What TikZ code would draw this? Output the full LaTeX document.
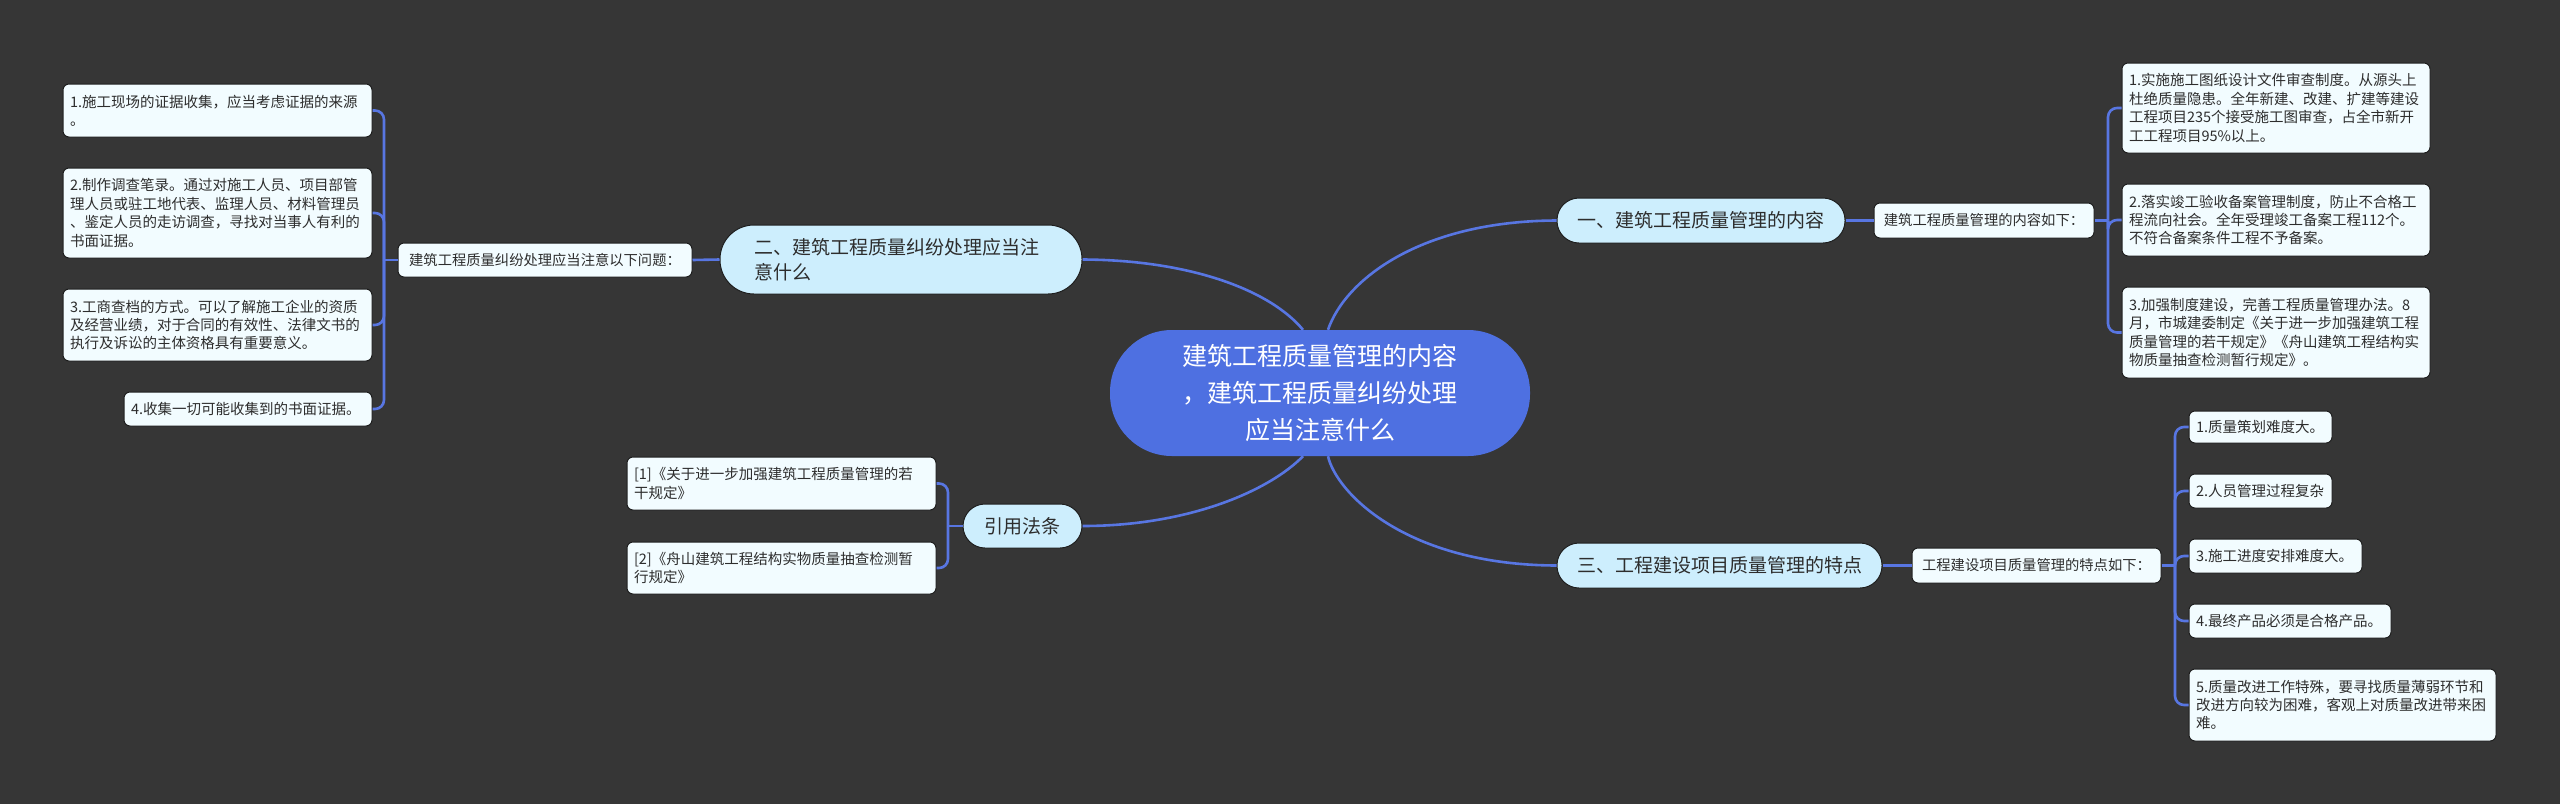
\documentclass[tikz,border=0pt]{standalone}
\usepackage{fontspec}
\setmainfont{Noto Sans CJK SC}
\usetikzlibrary{calc}
\definecolor{bgc}{RGB}{54,54,54}
\definecolor{linec}{RGB}{88,118,226}
\definecolor{mainc}{RGB}{78,112,225}
\definecolor{lvc}{RGB}{205,238,253}
\definecolor{leafc}{RGB}{242,252,255}
\definecolor{edgec}{RGB}{30,30,30}
\definecolor{txtc}{RGB}{45,45,45}
\begin{document}
\begin{tikzpicture}[x=1pt,y=-1pt,
  conn/.style={draw=linec, line width=2.6pt},
  bconn/.style={draw=linec, line width=2.6pt, rounded corners=9pt},
  mainbox/.style={fill=mainc, draw=none, rounded corners=62pt, text=white, align=center,
    font=\fontsize{25}{37}\selectfont, inner sep=0pt},
  lvbox/.style={fill=lvc, draw=edgec, line width=1pt, text=txtc, align=center,
    font=\fontsize{19}{25}\selectfont, inner sep=0pt},
  leaf/.style={fill=leafc, draw=edgec, line width=1pt, rounded corners=6pt, text=txtc,
    align=left, inner xsep=7pt, inner ysep=0pt, font=\fontsize{14.5}{18.4}\selectfont},
  lab/.style={leaf, align=center, inner xsep=0pt, font=\fontsize{14.3}{18.4}\selectfont}
]
\fill[bgc] (0,0) rectangle (2560,804);
\useasboundingbox (0,0) rectangle (2560,804);

% center
\node[mainbox, minimum width=420pt, minimum height=126pt] (c) at (1320,393)
  {建筑工程质量管理的内容\\，建筑工程质量纠纷处理\\应当注意什么};

% level 1
\node[lvbox, rounded corners=22pt, minimum width=288pt, minimum height=45pt] (n1) at (1701,220.5)
  {一、建筑工程质量管理的内容};
\node[lvbox, rounded corners=34pt, align=left, text width=294pt, inner xsep=34pt, minimum height=69pt] (n2) at (901,259.5)
  {二、建筑工程质量纠纷处理应当注\\意什么};
\node[lvbox, rounded corners=22pt, minimum width=325pt, minimum height=45pt] (n3) at (1719.5,565.5)
  {三、工程建设项目质量管理的特点};
\node[lvbox, rounded corners=22pt, minimum width=119pt, minimum height=44pt] (n4) at (1022.5,526)
  {引用法条};

% main connectors
\draw[conn] (n2.east) .. controls (1190,260) and (1270,290) .. ([xshift=-17pt]c.north);
\draw[conn] ([xshift=8pt]c.north) .. controls (1345,280) and (1420,221) .. (n1.west);
\draw[conn] (n4.east) .. controls (1190,526) and (1270,490) .. ([xshift=-17pt]c.south);
\draw[conn] ([xshift=8pt]c.south) .. controls (1336,492) and (1405,565) .. (n3.west);

% ---- branch 1
\node[lab, minimum width=220pt, minimum height=35pt] (a0) at (1984,220.5) {建筑工程质量管理的内容如下：};
\node[leaf, text width=294pt, minimum height=90pt] (a1) at (2276,108)
  {1.实施施工图纸设计文件审查制度。从源头上\\杜绝质量隐患。全年新建、改建、扩建等建设\\工程项目235个接受施工图审查，占全市新开\\工工程项目95\%以上。};
\node[leaf, text width=294pt, minimum height=72pt] (a2) at (2276,220)
  {2.落实竣工验收备案管理制度，防止不合格工\\程流向社会。全年受理竣工备案工程112个。\\不符合备案条件工程不予备案。};
\node[leaf, text width=294pt, minimum height=91pt] (a3) at (2276,332.5)
  {3.加强制度建设，完善工程质量管理办法。8\\月，市城建委制定《关于进一步加强建筑工程\\质量管理的若干规定》《舟山建筑工程结构实\\物质量抽查检测暂行规定》。};
\coordinate (j1) at (2108,220.5);
\draw[conn] (n1.east) -- (a0.west);
\draw[conn] (a0.east) -- (j1);
\draw[bconn] (j1) |- (a1.west);
\draw[bconn] (j1) |- (a2.west);
\draw[bconn] (j1) |- (a3.west);

% ---- branch 2
\node[lab, minimum width=294pt, minimum height=34pt] (b0) at (545,260) {建筑工程质量纠纷处理应当注意以下问题：};
\node[leaf, text width=295pt, minimum height=53pt] (b1) at (217.5,110.5)
  {1.施工现场的证据收集，应当考虑证据的来源\\。};
\node[leaf, text width=295pt, minimum height=90pt] (b2) at (217.5,213)
  {2.制作调查笔录。通过对施工人员、项目部管\\理人员或驻工地代表、监理人员、材料管理员\\、鉴定人员的走访调查，寻找对当事人有利的\\书面证据。};
\node[leaf, text width=295pt, minimum height=72pt] (b3) at (217.5,325)
  {3.工商查档的方式。可以了解施工企业的资质\\及经营业绩，对于合同的有效性、法律文书的\\执行及诉讼的主体资格具有重要意义。};
\node[leaf, text width=234pt, minimum height=34pt] (b4) at (248,409)
  {4.收集一切可能收集到的书面证据。};
\coordinate (j2) at (384,260);
\draw[conn] (n2.west) -- (b0.east);
\draw[conn] (b0.west) -- (j2);
\draw[bconn] (j2) |- (b1.east);
\draw[bconn] (j2) |- (b2.east);
\draw[bconn] (j2) |- (b3.east);
\draw[bconn] (j2) |- (b4.east);

% ---- branch 3
\node[lab, minimum width=249pt, minimum height=35pt] (d0) at (2036.5,565.5) {工程建设项目质量管理的特点如下：};
\node[leaf, text width=129pt, minimum height=32pt] (d1) at (2260.5,427) {1.质量策划难度大。};
\node[leaf, text width=129pt, minimum height=34pt] (d2) at (2260.5,491) {2.人员管理过程复杂};
\node[leaf, text width=159pt, minimum height=34pt] (d3) at (2275.5,556) {3.施工进度安排难度大。};
\node[leaf, text width=188pt, minimum height=34pt] (d4) at (2290,621) {4.最终产品必须是合格产品。};
\node[leaf, text width=293pt, minimum height=72pt] (d5) at (2342.5,705)
  {5.质量改进工作特殊，要寻找质量薄弱环节和\\改进方向较为困难，客观上对质量改进带来困\\难。};
\coordinate (j3) at (2175,565.5);
\draw[conn] (n3.east) -- (d0.west);
\draw[conn] (d0.east) -- (j3);
\draw[bconn] (j3) |- (d1.west);
\draw[bconn] (j3) |- (d2.west);
\draw[bconn] (j3) |- (d3.west);
\draw[bconn] (j3) |- (d4.west);
\draw[bconn] (j3) |- (d5.west);

% ---- branch 4
\node[leaf, text width=295pt, minimum height=53pt] (e1) at (781.5,483.5)
  {[1]《关于进一步加强建筑工程质量管理的若\\干规定》};
\node[leaf, text width=295pt, minimum height=52pt] (e2) at (781.5,568)
  {[2]《舟山建筑工程结构实物质量抽查检测暂\\行规定》};
\coordinate (j4) at (948,526);
\draw[conn] (n4.west) -- (j4);
\draw[bconn] (j4) |- (e1.east);
\draw[bconn] (j4) |- (e2.east);
\end{tikzpicture}
\end{document}
